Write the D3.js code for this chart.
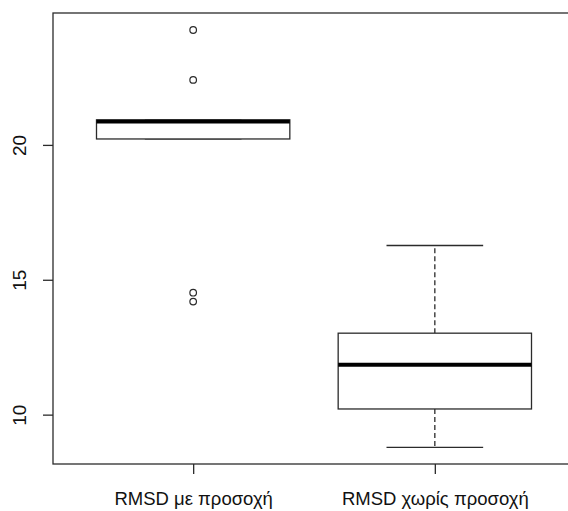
<!DOCTYPE html>
<html>
<head>
<meta charset="utf-8">
<script src="https://cdn.jsdelivr.net/npm/d3@7"></script>
<style>
  html, body { margin: 0; padding: 0; background: #fff; }
  svg { display: block; font-family: "Liberation Sans", Arial, sans-serif; }
</style>
</head>
<body>
<svg id="chart" width="568" height="511"></svg>
<script>
// Group names along the x axis
const categories = ["RMSD με προσοχή", "RMSD χωρίς προσοχή"];
// Five-number summaries per group: lower whisker, Q1, median, Q3, upper whisker
const whiskerLow  = [20.22, 8.79];
const q1          = [20.22, 10.21];
const medians     = [20.86, 11.85];
const q3          = [20.93, 13.02];
const whiskerHigh = [20.93, 16.27];
// Points beyond the whiskers
const outliers = [
  [24.26, 22.41, 14.52, 14.19],
  []
];
// Y axis tick values
const yTicks = [10, 15, 20];

const svg = d3.select("#chart");
const plot = { left: 53, top: 13, bottom: 464, right: 575 };
const ink = "#2b2b2b";

// Box positions 1..n, with R-style padding around them
const x = d3.scaleLinear().domain([0.42, categories.length + 0.58]).range([plot.left, plot.right]);
const y = d3.scaleLinear().domain([8.17, 24.89]).range([plot.bottom, plot.top]);
const boxW = x(1.8) - x(1.0);
const capW = boxW / 2;

// Plot frame
svg.append("rect")
  .attr("x", plot.left).attr("y", plot.top)
  .attr("width", plot.right - plot.left).attr("height", plot.bottom - plot.top)
  .attr("fill", "none").attr("stroke", ink).attr("stroke-width", 1.3);

// Y axis
const yAxis = svg.append("g")
  .attr("transform", `translate(${plot.left},0)`)
  .call(d3.axisLeft(y).tickValues(yTicks).tickSize(10).tickPadding(0).tickFormat(d3.format("d")));
yAxis.select(".domain").remove();
yAxis.selectAll(".tick line").attr("stroke", ink).attr("stroke-width", 1.3);
yAxis.selectAll(".tick text")
  .attr("x", null).attr("dy", null)
  .attr("transform", "translate(-27,0) rotate(-90)")
  .attr("text-anchor", "middle")
  .attr("font-size", 19)
  .attr("fill", "#111");

// X axis
const xAxis = svg.append("g")
  .attr("transform", `translate(0,${plot.bottom})`)
  .call(d3.axisBottom(x).tickValues(categories.map((d, i) => i + 1))
    .tickSize(10).tickPadding(0).tickFormat((d) => categories[d - 1]));
xAxis.select(".domain").remove();
xAxis.selectAll(".tick line").attr("stroke", ink).attr("stroke-width", 1.3);
xAxis.selectAll(".tick text")
  .attr("y", 41).attr("dy", null)
  .attr("font-size", 18.5)
  .attr("fill", "#111");

// Boxes
const groups = svg.append("g").selectAll("g")
  .data(categories.map((c, i) => ({
    pos: i + 1, lo: whiskerLow[i], q1: q1[i], med: medians[i], q3: q3[i], hi: whiskerHigh[i], out: outliers[i]
  })))
  .join("g");

// Dashed whiskers
groups.append("line")
  .attr("x1", (d) => x(d.pos)).attr("x2", (d) => x(d.pos))
  .attr("y1", (d) => y(d.q3)).attr("y2", (d) => y(d.hi))
  .attr("stroke", ink).attr("stroke-width", 1.3).attr("stroke-dasharray", "5,3");
groups.append("line")
  .attr("x1", (d) => x(d.pos)).attr("x2", (d) => x(d.pos))
  .attr("y1", (d) => y(d.q1)).attr("y2", (d) => y(d.lo))
  .attr("stroke", ink).attr("stroke-width", 1.3).attr("stroke-dasharray", "5,3");

// Whisker caps
groups.append("line")
  .attr("x1", (d) => x(d.pos) - capW / 2).attr("x2", (d) => x(d.pos) + capW / 2)
  .attr("y1", (d) => y(d.hi)).attr("y2", (d) => y(d.hi))
  .attr("stroke", ink).attr("stroke-width", 1.3);
groups.append("line")
  .attr("x1", (d) => x(d.pos) - capW / 2).attr("x2", (d) => x(d.pos) + capW / 2)
  .attr("y1", (d) => y(d.lo)).attr("y2", (d) => y(d.lo))
  .attr("stroke", ink).attr("stroke-width", 1.3);

// Interquartile box
groups.append("rect")
  .attr("x", (d) => x(d.pos) - boxW / 2)
  .attr("y", (d) => y(d.q3))
  .attr("width", boxW)
  .attr("height", (d) => y(d.q1) - y(d.q3))
  .attr("fill", "#fff").attr("stroke", ink).attr("stroke-width", 1.3);

// Median
groups.append("line")
  .attr("x1", (d) => x(d.pos) - boxW / 2).attr("x2", (d) => x(d.pos) + boxW / 2)
  .attr("y1", (d) => y(d.med)).attr("y2", (d) => y(d.med))
  .attr("stroke", "#000").attr("stroke-width", 3.8);

// Outliers
groups.selectAll("circle")
  .data((d) => d.out.map((v) => ({ pos: d.pos, v })))
  .join("circle")
  .attr("cx", (d) => x(d.pos)).attr("cy", (d) => y(d.v))
  .attr("r", 3.3)
  .attr("fill", "none").attr("stroke", ink).attr("stroke-width", 1.2);
</script>
</body>
</html>
